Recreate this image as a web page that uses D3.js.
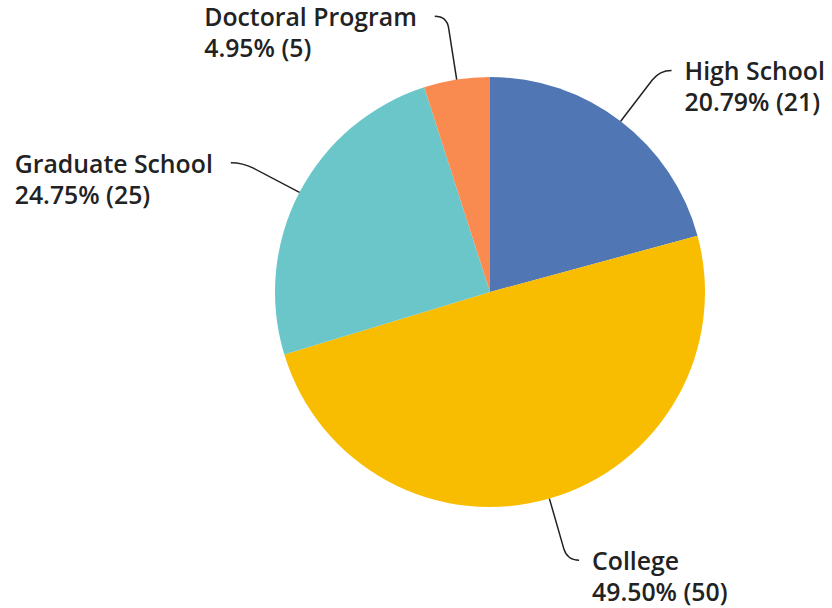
<!DOCTYPE html>
<html>
<head>
<meta charset="utf-8">
<script src="https://cdn.jsdelivr.net/npm/d3@7/dist/d3.min.js"></script>
<style>
  html, body { margin: 0; padding: 0; background: #fff; }
  svg { display: block; }
  .lbl { font-family: "Open Sans", "Noto Sans", sans-serif; font-weight: 600; font-size: 24.8px; fill: #222; }
</style>
</head>
<body>
<svg id="chart" width="832" height="608"></svg>
<script>
// Responses by highest level of education
const categories = ["High School", "College", "Graduate School", "Doctoral Program"];
const counts = [21, 50, 25, 5];
const percents = ["20.79%", "49.50%", "24.75%", "4.95%"];
const colors = ["#5077b4", "#f8bc00", "#6ac6c9", "#f98b50"];

const W = 832, H = 608;
const cx = 490, cy = 292, radius = 215;

const svg = d3.select("#chart");
const g = svg.append("g").attr("transform", `translate(${cx},${cy})`);

const data = categories.map((c, i) => ({ name: c, value: counts[i], pct: percents[i], color: colors[i] }));

const pie = d3.pie().value(d => d.value).sort(null);
const arc = d3.arc().innerRadius(0).outerRadius(radius);
const arcs = pie(data);

g.selectAll("path.slice")
  .data(arcs)
  .join("path")
  .attr("class", "slice")
  .attr("d", arc)
  .attr("fill", d => d.data.color);

// Leader lines: radial segment from the rim, curling toward the label side
const ext = 64, curl = 12;
function pt(angle, r) {
  return [Math.sin(angle) * r, -Math.cos(angle) * r];
}

arcs.forEach(a => {
  const mid = (a.startAngle + a.endAngle) / 2;
  const right = Math.sin(mid) >= 0;
  const p0 = pt(mid, radius);
  const p1 = pt(mid, radius + ext - 12);
  const corner = pt(mid, radius + ext);
  const end = [corner[0] + (right ? curl : -curl), corner[1]];

  g.append("path")
    .attr("d", `M${p0[0]},${p0[1]} L${p1[0]},${p1[1]} Q${corner[0]},${corner[1]} ${end[0]},${end[1]}`)
    .attr("fill", "none")
    .attr("stroke", "#222")
    .attr("stroke-width", 1.5);

  const t = g.append("text").attr("class", "lbl");
  const l1 = t.append("tspan").text(a.data.name);
  const l2 = t.append("tspan").text(`${a.data.pct} (${a.data.value})`);
  const w = l1.node().getComputedTextLength();
  const x = right ? end[0] + 13 : end[0] - 18 - w;
  const y = end[1] + 10;
  l1.attr("x", x).attr("y", y);
  l2.attr("x", x).attr("y", y + 31);
});
</script>
</body>
</html>
